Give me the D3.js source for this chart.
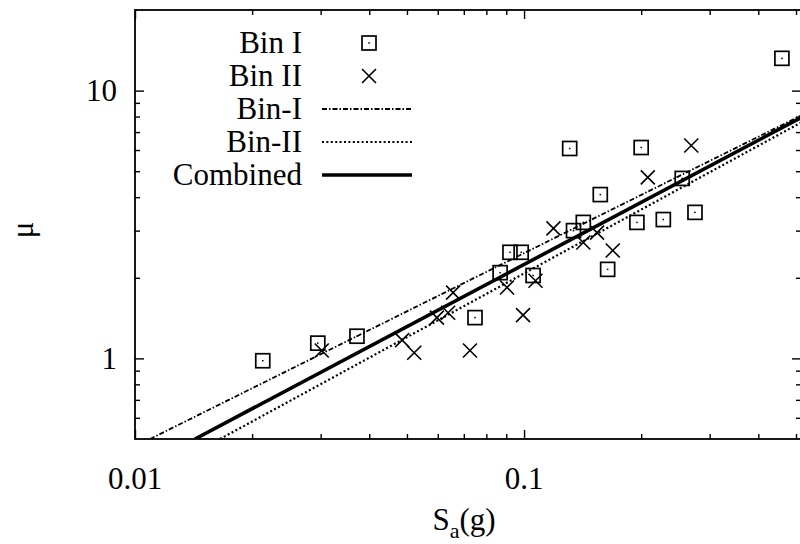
<!DOCTYPE html>
<html>
<head>
<meta charset="utf-8">
<script src="https://cdn.jsdelivr.net/npm/d3@7"></script>
<style>
  body { margin: 0; background: #fff; }
  svg { display: block; }
</style>
</head>
<body>
<svg id="chart" width="800" height="544"></svg>
<script>
// Bin I records: spectral acceleration Sa (g) and ductility demand mu
const binISa = [0.0213, 0.0295, 0.0372, 0.0748, 0.0868, 0.092, 0.0983, 0.1055, 0.134, 0.142,
                0.131, 0.200, 0.157, 0.195, 0.228, 0.275, 0.164, 0.255, 0.46];
const binIMu = [0.98, 1.14, 1.21, 1.42, 2.09, 2.49, 2.49, 2.04, 3.00, 3.22,
                6.08, 6.13, 4.09, 3.22, 3.30, 3.51, 2.15, 4.70, 13.2];

// Bin II records
const binIISa = [0.0302, 0.0486, 0.0522, 0.0726, 0.0597, 0.0638, 0.0657, 0.0994, 0.0904, 0.107,
                 0.119, 0.142, 0.154, 0.169, 0.208, 0.269];
const binIIMu = [1.07, 1.17, 1.05, 1.07, 1.42, 1.48, 1.76, 1.45, 1.84, 1.95,
                 3.06, 2.71, 2.95, 2.53, 4.74, 6.24];

// Fitted power-law lines, given by their end points (straight in log-log space)
const fitNames = ["Bin-I", "Bin-II", "Combined"];
const fitSa = [[0.01093, 0.515], [0.01654, 0.515], [0.01426, 0.515]];
const fitMu = [[0.5, 8.07], [0.5, 7.60], [0.5, 7.93]];

// Axis ticks
const xMajor = [0.01, 0.1];
const xMajorLabels = ["0.01", "0.1"];
const xMinor = [0.02, 0.03, 0.04, 0.05, 0.06, 0.07, 0.08, 0.09, 0.2, 0.3, 0.4, 0.5];
const yMajor = [1, 10];
const yMajorLabels = ["1", "10"];
const yMinor = [0.6, 0.7, 0.8, 0.9, 2, 3, 4, 5, 6, 7, 8, 9];

const svg = d3.select("#chart");
const L = 135, R = 801, T = 10, B = 439;

const x = d3.scaleLog().domain([0.01, 0.515]).range([L, R]);
const y = d3.scaleLog().domain([0.5, 20]).range([B, T]);

// clip for data
svg.append("defs").append("clipPath").attr("id", "plotclip")
  .append("rect").attr("x", L).attr("y", T).attr("width", R - L).attr("height", B - T);

// ticks on all four sides, pointing inward
function tickAxis(axisGen, vals, size, transform) {
  const g = svg.append("g").attr("transform", transform)
    .call(axisGen.tickValues(vals).tickSize(size).tickFormat(""));
  g.select(".domain").remove();
  g.selectAll(".tick line").attr("stroke", "#000").attr("stroke-width", 1.4);
  return g;
}
tickAxis(d3.axisBottom(x), xMajor, -9, `translate(0,${B})`);
tickAxis(d3.axisBottom(x), xMinor, -5, `translate(0,${B})`);
tickAxis(d3.axisTop(x), xMajor, -9, `translate(0,${T})`);
tickAxis(d3.axisTop(x), xMinor, -5, `translate(0,${T})`);
tickAxis(d3.axisLeft(y), yMajor, -9, `translate(${L},0)`);
tickAxis(d3.axisLeft(y), yMinor, -5, `translate(${L},0)`);
tickAxis(d3.axisRight(y), yMajor, -9, `translate(${R},0)`);
tickAxis(d3.axisRight(y), yMinor, -5, `translate(${R},0)`);

// frame
svg.append("rect").attr("x", L).attr("y", T).attr("width", R - L).attr("height", B - T)
  .attr("fill", "none").attr("stroke", "#000").attr("stroke-width", 1.8);

function label(g) {
  return g.append("text").style("font-family", '"Liberation Serif", "DejaVu Serif", serif')
    .style("font-size", "31px").attr("fill", "#000");
}

// tick labels
xMajor.forEach((v, i) => {
  label(svg).attr("x", x(v)).attr("y", 489).attr("text-anchor", "middle").text(xMajorLabels[i]);
});
yMajor.forEach((v, i) => {
  label(svg).attr("x", 117).attr("y", y(v)).attr("dy", "0.34em").attr("text-anchor", "end")
    .text(yMajorLabels[i]);
});

// axis titles
const xt = label(svg).attr("x", (L + R) / 2 - 4).attr("y", 530).attr("text-anchor", "middle");
xt.append("tspan").text("S");
xt.append("tspan").style("font-size", "22px").attr("dy", 8).text("a");
xt.append("tspan").attr("dy", -8).text("(g)");

label(svg).attr("transform", "translate(33,230) rotate(-90)")
  .attr("text-anchor", "middle").text("μ");

// line styles
const fitStyle = {
  "Bin-I": { width: 1.8, dash: "5,2,1.5,2" },
  "Bin-II": { width: 2.2, dash: "2,2.4" },
  "Combined": { width: 3.6, dash: null }
};

const plot = svg.append("g").attr("clip-path", "url(#plotclip)");
const line = d3.line().x(d => x(d[0])).y(d => y(d[1]));

fitNames.forEach((name, i) => {
  const pts = fitSa[i].map((s, j) => [s, fitMu[i][j]]);
  const st = fitStyle[name];
  plot.append("path").attr("d", line(pts)).attr("fill", "none")
    .attr("stroke", "#000").attr("stroke-width", st.width)
    .attr("stroke-dasharray", st.dash);
});

// markers
const S = 14;
function square(g, cx, cy) {
  g.append("rect").attr("x", cx - S / 2).attr("y", cy - S / 2).attr("width", S).attr("height", S)
    .attr("fill", "none").attr("stroke", "#000").attr("stroke-width", 1.7);
  g.append("rect").attr("x", cx - 0.75).attr("y", cy - 0.75).attr("width", 1.5).attr("height", 1.5)
    .attr("fill", "#000");
}
function cross(g, cx, cy) {
  const h = S / 2;
  g.append("path").attr("d", `M${cx - h},${cy - h}L${cx + h},${cy + h}M${cx - h},${cy + h}L${cx + h},${cy - h}`)
    .attr("stroke", "#000").attr("stroke-width", 1.6).attr("fill", "none");
}

binISa.forEach((s, i) => square(plot, x(s), y(binIMu[i])));
binIISa.forEach((s, i) => cross(plot, x(s), y(binIIMu[i])));

// legend
const legendRows = ["Bin I", "Bin II", "Bin-I", "Bin-II", "Combined"];
const leg = svg.append("g");
legendRows.forEach((name, i) => {
  const base = 53 + i * 33;
  const cy = base - 10;
  label(leg).attr("x", 302).attr("y", base).attr("text-anchor", "end").text(name);
  if (i === 0) square(leg, 369, cy);
  else if (i === 1) cross(leg, 369, cy);
  else {
    const st = fitStyle[name];
    leg.append("line").attr("x1", 322).attr("x2", 412).attr("y1", cy).attr("y2", cy)
      .attr("stroke", "#000").attr("stroke-width", st.width).attr("stroke-dasharray", st.dash);
  }
});
</script>
</body>
</html>
